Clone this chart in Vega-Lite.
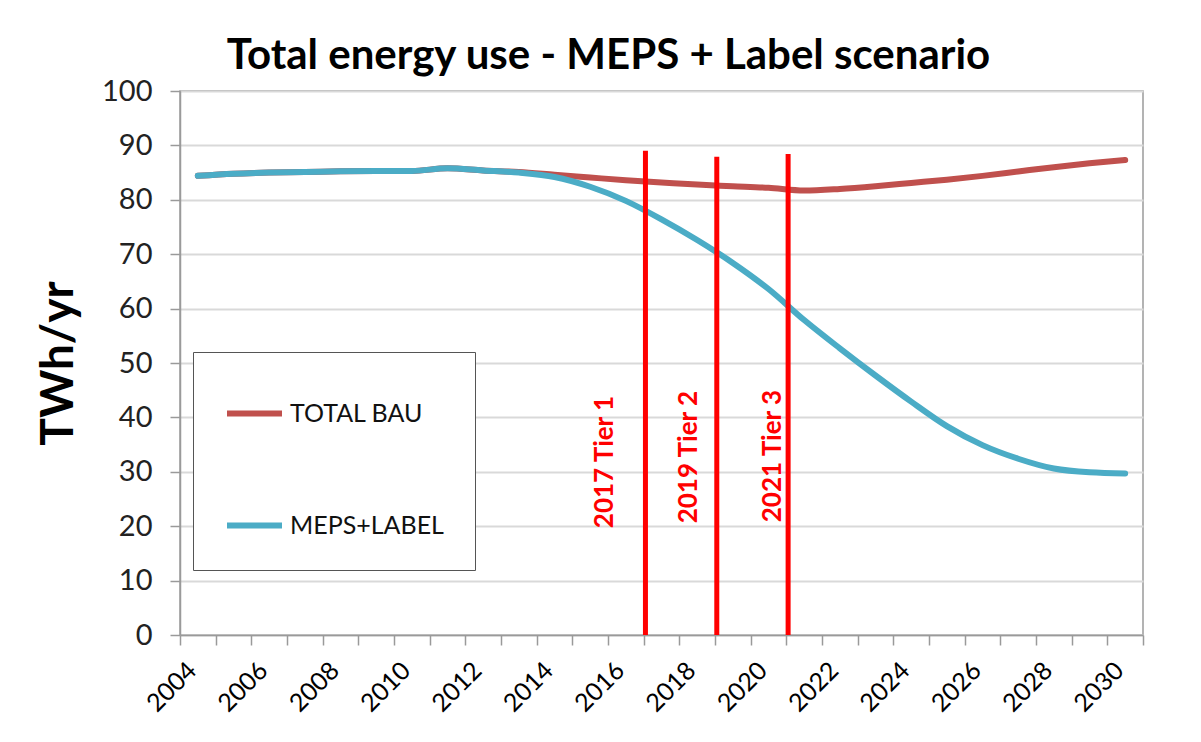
{
  "$schema": "https://vega.github.io/schema/vega-lite/v6.json",
  "autosize": {"type": "none"},
  "width": 963,
  "height": 544,
  "padding": {"left": 180, "top": 91, "right": 58, "bottom": 107},
  "background": "white",
  "config": {
    "font": "Lato",
    "view": {"stroke": "#9a9a9a", "strokeWidth": 1.5}
  },
  "title": {
    "text": "Total energy use - MEPS + Label scenario",
    "font": "Lato",
    "fontSize": 42,
    "fontWeight": "bold",
    "color": "#000000",
    "anchor": "middle",
    "dx": -53,
    "offset": -1
  },
  "resolve": {"axis": {"x": "independent"}},
  "datasets": {
    "series": [
      {"year": 2004, "series": "TOTAL BAU", "value": 84.4},
      {"year": 2005, "series": "TOTAL BAU", "value": 84.8},
      {"year": 2006, "series": "TOTAL BAU", "value": 85.0},
      {"year": 2007, "series": "TOTAL BAU", "value": 85.1},
      {"year": 2008, "series": "TOTAL BAU", "value": 85.25},
      {"year": 2009, "series": "TOTAL BAU", "value": 85.3},
      {"year": 2010, "series": "TOTAL BAU", "value": 85.3},
      {"year": 2011, "series": "TOTAL BAU", "value": 85.8},
      {"year": 2012, "series": "TOTAL BAU", "value": 85.4},
      {"year": 2013, "series": "TOTAL BAU", "value": 85.1},
      {"year": 2014, "series": "TOTAL BAU", "value": 84.6},
      {"year": 2015, "series": "TOTAL BAU", "value": 84.1},
      {"year": 2016, "series": "TOTAL BAU", "value": 83.6},
      {"year": 2017, "series": "TOTAL BAU", "value": 83.2},
      {"year": 2018, "series": "TOTAL BAU", "value": 82.8},
      {"year": 2019, "series": "TOTAL BAU", "value": 82.5},
      {"year": 2020, "series": "TOTAL BAU", "value": 82.2},
      {"year": 2021, "series": "TOTAL BAU", "value": 81.7},
      {"year": 2022, "series": "TOTAL BAU", "value": 82.0},
      {"year": 2023, "series": "TOTAL BAU", "value": 82.5},
      {"year": 2024, "series": "TOTAL BAU", "value": 83.1},
      {"year": 2025, "series": "TOTAL BAU", "value": 83.7},
      {"year": 2026, "series": "TOTAL BAU", "value": 84.4},
      {"year": 2027, "series": "TOTAL BAU", "value": 85.2},
      {"year": 2028, "series": "TOTAL BAU", "value": 86.0},
      {"year": 2029, "series": "TOTAL BAU", "value": 86.7},
      {"year": 2030, "series": "TOTAL BAU", "value": 87.3},
      {"year": 2004, "series": "MEPS+LABEL", "value": 84.4},
      {"year": 2005, "series": "MEPS+LABEL", "value": 84.8},
      {"year": 2006, "series": "MEPS+LABEL", "value": 85.0},
      {"year": 2007, "series": "MEPS+LABEL", "value": 85.1},
      {"year": 2008, "series": "MEPS+LABEL", "value": 85.25},
      {"year": 2009, "series": "MEPS+LABEL", "value": 85.3},
      {"year": 2010, "series": "MEPS+LABEL", "value": 85.3},
      {"year": 2011, "series": "MEPS+LABEL", "value": 85.8},
      {"year": 2012, "series": "MEPS+LABEL", "value": 85.4},
      {"year": 2013, "series": "MEPS+LABEL", "value": 85.0},
      {"year": 2014, "series": "MEPS+LABEL", "value": 84.2},
      {"year": 2015, "series": "MEPS+LABEL", "value": 82.4},
      {"year": 2016, "series": "MEPS+LABEL", "value": 79.8},
      {"year": 2017, "series": "MEPS+LABEL", "value": 76.4},
      {"year": 2018, "series": "MEPS+LABEL", "value": 72.6},
      {"year": 2019, "series": "MEPS+LABEL", "value": 68.4},
      {"year": 2020, "series": "MEPS+LABEL", "value": 63.6},
      {"year": 2021, "series": "MEPS+LABEL", "value": 57.9},
      {"year": 2022, "series": "MEPS+LABEL", "value": 52.7},
      {"year": 2023, "series": "MEPS+LABEL", "value": 47.7},
      {"year": 2024, "series": "MEPS+LABEL", "value": 42.9},
      {"year": 2025, "series": "MEPS+LABEL", "value": 38.4},
      {"year": 2026, "series": "MEPS+LABEL", "value": 34.9},
      {"year": 2027, "series": "MEPS+LABEL", "value": 32.4},
      {"year": 2028, "series": "MEPS+LABEL", "value": 30.6},
      {"year": 2029, "series": "MEPS+LABEL", "value": 29.9},
      {"year": 2030, "series": "MEPS+LABEL", "value": 29.7}
    ],
    "tiers": [
      {"year": 2016.55, "top": 89.0, "labelYear": 2015.42, "labelY": 31.8, "label": "2017 Tier 1"},
      {"year": 2018.55, "top": 87.9, "labelYear": 2017.78, "labelY": 32.7, "label": "2019 Tier 2"},
      {"year": 2020.55, "top": 88.4, "labelYear": 2020.13, "labelY": 32.9, "label": "2021 Tier 3"}
    ]
  },
  "layer": [
    {
      "data": {"name": "series"},
      "mark": {"type": "line", "strokeWidth": 6, "interpolate": "monotone", "strokeCap": "round"},
      "encoding": {
        "x": {
          "field": "year",
          "type": "quantitative",
          "scale": {"domain": [2003.5, 2030.5], "nice": false, "zero": false},
          "axis": {
            "orient": "bottom",
            "title": null,
            "grid": false,
            "values": [2004, 2006, 2008, 2010, 2012, 2014, 2016, 2018, 2020, 2022, 2024, 2026, 2028, 2030],
            "labelExpr": "'' + datum.value",
            "ticks": false,
            "labelAngle": -45,
            "labelAlign": "right",
            "labelBaseline": "middle",
            "labelFontSize": 25,
            "labelColor": "#000000",
            "labelPadding": 31,
            "labelOffset": -6,
            "labelOverlap": false,
            "labelFlush": false,
            "labelBound": false,
            "domainColor": "#9a9a9a",
            "domainWidth": 1.5
          }
        },
        "y": {
          "field": "value",
          "type": "quantitative",
          "scale": {"domain": [0, 100], "nice": false},
          "axis": {
            "title": "TWh/yr",
            "titleFontSize": 46,
            "titleFontWeight": "bold",
            "titleColor": "#000000",
            "titlePadding": 19,
            "values": [0, 10, 20, 30, 40, 50, 60, 70, 80, 90, 100],
            "labelFontSize": 29,
            "labelColor": "#222222",
            "labelPadding": 18,
            "tickSize": 10,
            "tickColor": "#9a9a9a",
            "tickWidth": 1.5,
            "domainColor": "#9a9a9a",
            "domainWidth": 1.5,
            "gridColor": "#d9d9d9",
            "gridWidth": 2
          }
        },
        "color": {
          "field": "series",
          "type": "nominal",
          "scale": {"domain": ["TOTAL BAU", "MEPS+LABEL"], "range": ["#c0504d", "#4bacc6"]},
          "legend": {
            "title": null,
            "orient": "none",
            "legendX": 13,
            "legendY": 261,
            "symbolType": "stroke",
            "symbolSize": 3025,
            "symbolStrokeWidth": 6,
            "labelFontSize": 25,
            "labelLimit": 0,
            "labelColor": "#111111",
            "labelOffset": 5,
            "rowPadding": 68,
            "padding": 31,
            "fillColor": "white",
            "strokeColor": "#555555"
          }
        }
      }
    },
    {
      "data": {"name": "tiers"},
      "mark": {"type": "rule", "color": "#ff0000", "strokeWidth": 5},
      "encoding": {
        "x": {
          "field": "year",
          "type": "quantitative",
          "scale": {"domain": [2003.5, 2030.5], "nice": false, "zero": false},
          "axis": {
            "orient": "bottom",
            "title": null,
            "grid": false,
            "labels": false,
            "domain": false,
            "values": [2003.5, 2004.5, 2005.5, 2006.5, 2007.5, 2008.5, 2009.5, 2010.5, 2011.5, 2012.5, 2013.5, 2014.5, 2015.5, 2016.5, 2017.5, 2018.5, 2019.5, 2020.5, 2021.5, 2022.5, 2023.5, 2024.5, 2025.5, 2026.5, 2027.5, 2028.5, 2029.5, 2030.5],
            "tickSize": 10,
            "tickColor": "#9a9a9a",
            "tickWidth": 1.5
          }
        },
        "y": {"field": "top", "type": "quantitative"},
        "y2": {"datum": 0}
      }
    },
    {
      "data": {"name": "tiers"},
      "mark": {"type": "text", "angle": 270, "align": "center", "baseline": "middle", "color": "#ff0000", "fontSize": 26, "fontWeight": "bold", "font": "Lato"},
      "encoding": {
        "x": {"field": "labelYear", "type": "quantitative", "axis": null},
        "y": {"field": "labelY", "type": "quantitative"},
        "text": {"field": "label"}
      }
    }
  ]
}
